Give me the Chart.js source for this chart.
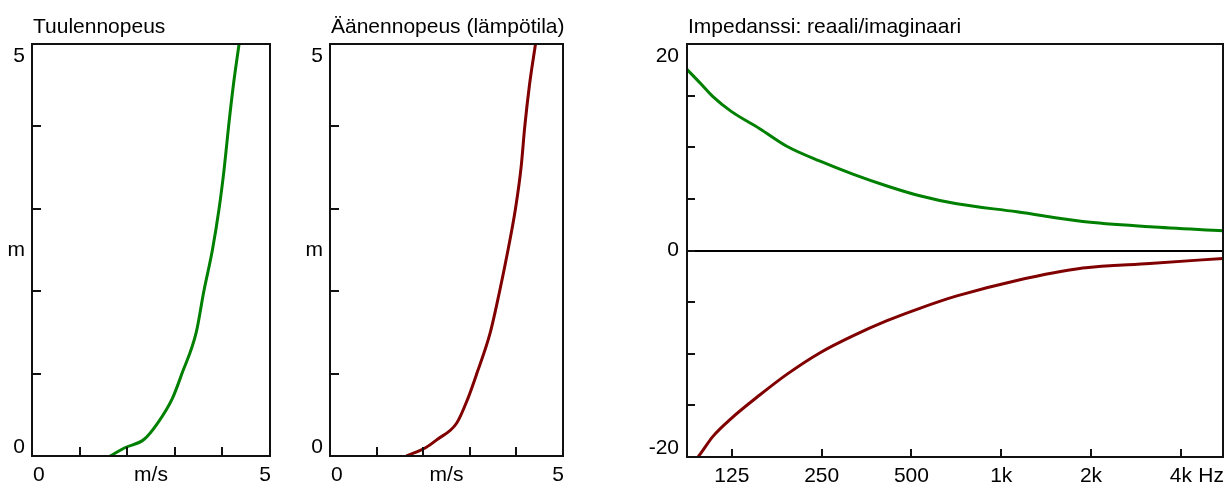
<!DOCTYPE html>
<html>
<head>
<meta charset="utf-8">
<script src="https://cdn.jsdelivr.net/npm/chart.js@4.4.1/dist/chart.umd.min.js"></script>
<style>
  html, body { margin: 0; padding: 0; background: #fff; }
  #wrap { position: relative; width: 1225px; height: 484px; overflow: hidden; }
  canvas { position: absolute; top: 0; }
</style>
</head>
<body>
<div id="wrap">
  <canvas id="wind" style="left:0" width="295" height="484"></canvas>
  <canvas id="sound" style="left:295px" width="300" height="484"></canvas>
  <canvas id="imp" style="left:600px" width="625" height="484"></canvas>
</div>
<script>
// heights (m) shared by the two profile panels
const heights    = [0, 0.1, 0.2, 0.4, 0.7, 1.0, 1.5, 2.0, 2.5, 3.0, 3.5, 4.0, 4.5, 5.0];
const windSpeed  = [1.64, 1.95, 2.35, 2.64, 2.95, 3.15, 3.45, 3.61, 3.79, 3.93, 4.04, 4.13, 4.23, 4.35];
const soundSpeed = [1.64, 2.05, 2.30, 2.72, 2.96, 3.15, 3.44, 3.64, 3.82, 3.98, 4.10, 4.18, 4.28, 4.41];

// impedance vs frequency (Hz)
const freqs     = [88, 98, 108, 124, 155, 191, 247, 318, 414, 533, 710, 1128, 1877, 3148, 5540];
const impReal   = [17.6, 16.2, 14.9, 13.5, 11.8, 10.1, 8.65, 7.4, 6.25, 5.3, 4.52, 3.75, 2.8, 2.3, 1.92];
const impImag   = [-21.5, -19.7, -18.0, -16.3, -14.0, -12.0, -9.9, -8.27, -6.8, -5.6, -4.4, -2.9, -1.7, -1.25, -0.77];

// tick labels
const profXLabelVals = [0, 2.5, 5];
const profXLabels    = ['0', 'm/s', '5'];
const profYLabelVals = [0, 2.5, 5];
const profYLabels    = ['0', 'm', '5'];
const impTickVals    = [125, 250, 500, 1000, 2000, 4000];
const impXLabelVals  = [125, 250, 500, 1000, 2000, 4000, 5540];
const impXLabels     = ['125', '250', '500', '1k', '2k', '4k', 'Hz'];
const impYLabelVals  = [-20, 0, 20];
const impYLabels     = ['-20', '0', '20'];

const FONT = '21px "Liberation Sans", Arial, sans-serif';
const GREEN = '#008000';
const DARKRED = '#800000';

const near = (a, b) => Math.abs(a - b) < 1e-6 * Math.max(1, Math.abs(b));

// frame, inward tick marks, labels and title
const decor = {
  id: 'decor',
  afterDatasetsDraw(chart, args, o) {
    const { ctx, chartArea: a, scales: { x, y } } = chart;
    ctx.save();
    ctx.strokeStyle = '#111';
    ctx.lineWidth = 2;
    ctx.beginPath();
    x.ticks.forEach(t => {
      const px = Math.round(x.getPixelForValue(t.value));
      ctx.moveTo(px, a.bottom);
      ctx.lineTo(px, a.bottom - o.tick);
    });
    y.ticks.forEach(t => {
      const py = Math.round(y.getPixelForValue(t.value));
      ctx.moveTo(a.left, py);
      ctx.lineTo(a.left + o.tick, py);
    });
    ctx.stroke();
    ctx.strokeRect(a.left, a.top, a.right - a.left, a.bottom - a.top);

    ctx.fillStyle = '#000';
    ctx.font = FONT;
    ctx.textBaseline = 'alphabetic';
    o.xVals.forEach((v, i) => {
      let px = x.getPixelForValue(v);
      if (near(v, x.min)) { ctx.textAlign = 'left'; px = a.left + 1; }
      else if (near(v, x.max)) { ctx.textAlign = 'right'; px = a.right + 1; }
      else ctx.textAlign = 'center';
      ctx.fillText(o.xText[i], px, a.bottom + 25);
    });
    ctx.textAlign = 'right';
    o.yVals.forEach((v, i) => {
      let py = y.getPixelForValue(v);
      if (near(v, y.max)) { ctx.textBaseline = 'top'; py = a.top + 2; }
      else if (near(v, y.min)) { ctx.textBaseline = 'alphabetic'; py = a.bottom - 3; }
      else ctx.textBaseline = 'middle';
      ctx.fillText(o.yText[i], a.left - o.yGap, py);
    });
    ctx.textAlign = 'left';
    ctx.textBaseline = 'alphabetic';
    ctx.fillText(o.title, a.left + 1, a.top - 11);
    ctx.restore();
  }
};

function lineSet(xs, ys, color) {
  return {
    data: xs.map((v, i) => ({ x: v, y: ys[i] })),
    showLine: true,
    borderColor: color,
    borderWidth: 3,
    pointRadius: 0,
    cubicInterpolationMode: 'monotone',
    fill: false
  };
}

const hiddenGrid = { display: false, drawTicks: false };

function profileChart(id, speeds, color, title, pad) {
  return new Chart(document.getElementById(id), {
    type: 'scatter',
    data: { datasets: [lineSet(speeds, heights, color)] },
    options: {
      responsive: false,
      animation: false,
      layout: { padding: pad },
      plugins: {
        legend: { display: false },
        tooltip: { enabled: false },
        decor: { title, tick: 9, yGap: 7, xVals: profXLabelVals, xText: profXLabels, yVals: profYLabelVals, yText: profYLabels }
      },
      scales: {
        x: {
          type: 'linear', min: 0, max: 5,
          ticks: { display: false, stepSize: 1 },
          grid: hiddenGrid, border: { display: false }
        },
        y: {
          type: 'linear', min: 0, max: 5,
          ticks: { display: false, stepSize: 1 },
          grid: hiddenGrid, border: { display: false }
        }
      }
    },
    plugins: [decor]
  });
}

profileChart('wind', windSpeed, GREEN, 'Tuulennopeus', { left: 32, right: 25, top: 44, bottom: 28 });
profileChart('sound', soundSpeed, DARKRED, 'Äänennopeus (lämpötila)', { left: 35, right: 32, top: 44, bottom: 28 });

new Chart(document.getElementById('imp'), {
  type: 'scatter',
  data: {
    datasets: [
      lineSet(freqs, impReal, GREEN),
      lineSet(freqs, impImag, DARKRED)
    ]
  },
  options: {
    responsive: false,
    animation: false,
    layout: { padding: { left: 87, right: 2, top: 44, bottom: 27 } },
    plugins: {
      legend: { display: false },
      tooltip: { enabled: false },
      decor: { title: 'Impedanssi: reaali/imaginaari', tick: 8, yGap: 8, xVals: impXLabelVals, xText: impXLabels, yVals: impYLabelVals, yText: impYLabels }
    },
    scales: {
      x: {
        type: 'logarithmic', min: 88.4, max: 5540,
        afterBuildTicks: s => { s.ticks = impTickVals.map(v => ({ value: v })); },
        ticks: { display: false },
        grid: hiddenGrid, border: { display: false }
      },
      y: {
        type: 'linear', min: -20, max: 20,
        ticks: { display: false, stepSize: 5 },
        grid: {
          display: true, drawTicks: false, lineWidth: 2,
          color: c => (c.tick && c.tick.value === 0) ? '#000' : 'rgba(0,0,0,0)'
        },
        border: { display: false }
      }
    }
  },
  plugins: [decor]
});
</script>
</body>
</html>
